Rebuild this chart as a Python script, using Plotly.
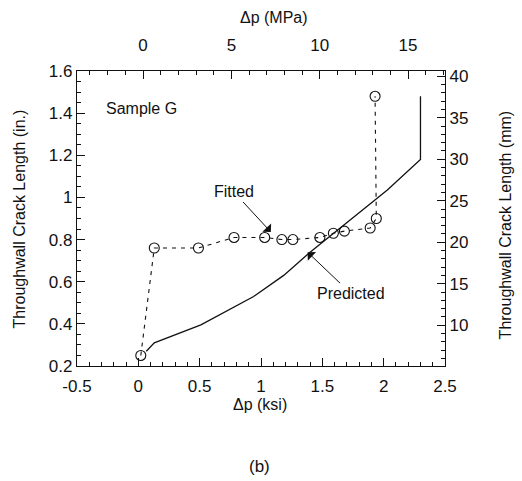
import plotly.graph_objects as go

# Data (Δp in ksi, crack length in inches)
fitted_x = [0.02, 0.13, 0.49, 0.78, 1.03, 1.17, 1.26, 1.48, 1.59, 1.68, 1.89, 1.94, 1.93]
fitted_y = [0.25, 0.76, 0.76, 0.81, 0.81, 0.80, 0.80, 0.81, 0.83, 0.84, 0.855, 0.90, 1.48]

pred_x = [0.065, 0.13, 0.51, 0.94, 1.185, 1.40, 2.03, 2.30, 2.30]
pred_y = [0.27, 0.31, 0.395, 0.53, 0.63, 0.74, 1.035, 1.18, 1.48]

x_ticks = [-0.5, 0, 0.5, 1, 1.5, 2, 2.5]
x_ticklabels = ["-0.5", "0", "0.5", "1", "1.5", "2", "2.5"]
y_ticks = [0.2, 0.4, 0.6, 0.8, 1.0, 1.2, 1.4, 1.6]
y_ticklabels = ["0.2", "0.4", "0.6", "0.8", "1", "1.2", "1.4", "1.6"]
mpa_ticks = [0, 5, 10, 15]
mm_ticks = [10, 15, 20, 25, 30, 35, 40]

MM_PER_IN = 25.4
Y_RANGE = [0.2, 1.6]
X_RANGE = [-0.5, 2.5]

FONT = "Liberation Sans, Arial, sans-serif"
BLACK = "#111111"

fig = go.Figure()
fig.add_trace(go.Scatter(
    x=pred_x, y=pred_y, mode="lines",
    line=dict(color=BLACK, width=1.3), showlegend=False))
fig.add_trace(go.Scatter(
    x=fitted_x, y=fitted_y, mode="lines+markers",
    line=dict(color=BLACK, width=1.1, dash="4px,5px"),
    marker=dict(symbol="circle-open", size=10, color=BLACK, line=dict(width=1.1)),
    showlegend=False))
fig.add_trace(go.Scatter(x=[0], y=[10], xaxis="x2", yaxis="y2", mode="markers",
                         marker=dict(opacity=0), showlegend=False, hoverinfo="skip"))

tickfont = dict(family=FONT, size=17, color=BLACK)


def axis_style(**kw):
    d = dict(showgrid=False, zeroline=False, showline=True, linecolor=BLACK, linewidth=1.3,
             ticks="inside", ticklen=8, tickcolor=BLACK, tickwidth=1.3, tickfont=tickfont)
    d.update(kw)
    return d


def minor(dt):
    return dict(dtick=dt, ticks="inside", ticklen=4, tickcolor=BLACK, tickwidth=1)


fig.update_layout(
    width=522, height=481,
    margin=dict(l=77, r=77, t=71, b=115),
    paper_bgcolor="white", plot_bgcolor="white",
    xaxis=axis_style(range=X_RANGE, tickvals=x_ticks, ticktext=x_ticklabels,
                     minor=minor(0.1), ticklabelstandoff=4),
    yaxis=axis_style(range=Y_RANGE, tickvals=y_ticks, ticktext=y_ticklabels,
                     minor=minor(0.05)),
    xaxis2=axis_style(range=[-3.735, 17.09], overlaying="x", side="top", anchor="y2",
                      tickvals=mpa_ticks, minor=minor(1), ticklabelstandoff=12),
    yaxis2=axis_style(range=[Y_RANGE[0] * MM_PER_IN, Y_RANGE[1] * MM_PER_IN], overlaying="y",
                      side="right", anchor="x2", tickvals=mm_ticks, minor=minor(1)),
)

tf = dict(family=FONT, size=16, color=BLACK)
ann = [
    dict(text="Δp (ksi)", x=0.497, y=-0.129, xref="paper", yref="paper", showarrow=False, font=tf,
         xanchor="center", yanchor="middle"),
    dict(text="Δp (MPa)", x=0.534, y=1.183, xref="paper", yref="paper", showarrow=False, font=tf,
         xanchor="center", yanchor="middle"),
    dict(text="Throughwall Crack Length (in.)", x=-0.155, y=0.50, xref="paper", yref="paper",
         showarrow=False, font=tf, textangle=-90, xanchor="center", yanchor="middle"),
    dict(text="Throughwall Crack Length (mm)", x=1.163, y=0.48, xref="paper", yref="paper",
         showarrow=False, font=tf, textangle=-90, xanchor="center", yanchor="middle"),
    dict(text="(b)", x=0.497, y=-0.342, xref="paper", yref="paper", showarrow=False,
         font=dict(family=FONT, size=17, color=BLACK), xanchor="center", yanchor="middle"),
    dict(text="Sample G", x=-0.284, y=1.424, xref="x", yref="y", showarrow=False, font=tf,
         xanchor="left", yanchor="middle"),
    dict(text="Fitted", x=1.08, y=0.836, xref="x", yref="y", showarrow=True, ax=-37, ay=-40,
         arrowhead=1, arrowsize=2, arrowwidth=1, arrowcolor=BLACK, font=tf),
    dict(text="Predicted", x=1.38, y=0.74, xref="x", yref="y", showarrow=True, ax=43, ay=41,
         arrowhead=1, arrowsize=2, arrowwidth=1, arrowcolor=BLACK, font=tf),
]
fig.update_layout(annotations=ann)

fig.write_html("out.html")
